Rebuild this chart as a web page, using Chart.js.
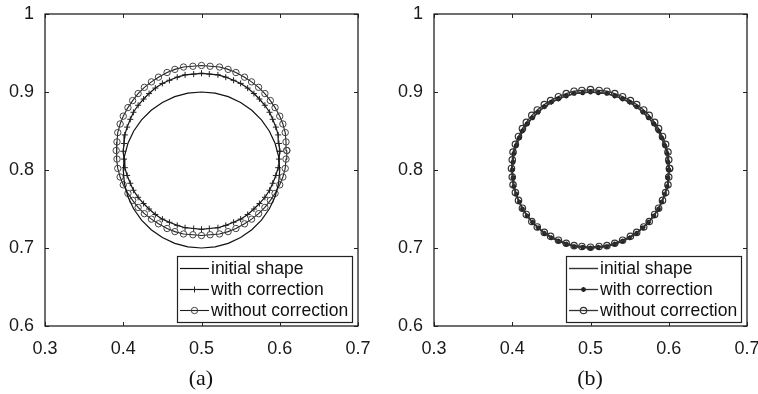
<!DOCTYPE html>
<html>
<head>
<meta charset="utf-8">
<script src="https://cdn.jsdelivr.net/npm/chart.js@4.4.0/dist/chart.umd.min.js"></script>
<style>
  body { margin: 0; background: #fff; width: 758px; height: 394px; overflow: hidden; position: relative; }
  .panel { position: absolute; top: 0; width: 379px; height: 394px; }
  canvas { display: block; }
  .cap { position: absolute; top: 365px; width: 100px; text-align: center; line-height: 24px;
         font: 22px "Liberation Serif", "Times New Roman", serif; color: #111; }
</style>
</head>
<body>
<div class="panel" style="left:0"><canvas id="chartA" width="379" height="394"></canvas></div>
<div class="panel" style="left:379px"><canvas id="chartB" width="379" height="394"></canvas></div>
<div class="cap" style="left:151px">(a)</div>
<div class="cap" style="left:540px">(b)</div>
<script>
// axis ticks
const xTicks = [0.3, 0.4, 0.5, 0.6, 0.7];
const xTickLabels = ['0.3', '0.4', '0.5', '0.6', '0.7'];
const yTicks = [0.6, 0.7, 0.8, 0.9, 1];
const yTickLabels = ['0.6', '0.7', '0.8', '0.9', '1'];

const seriesNames = ['initial shape', 'with correction', 'without correction'];

const initX = [.6,.5985,.594,.5866,.5766,.5643,.55,.5342,.5174,.5,.4826,.4658,.45,.4357,.4234,.4134,.406,.4015,.4,
  .4015,.406,.4134,.4234,.4357,.45,.4658,.4826,.5,.5174,.5342,.55,.5643,.5766,.5866,.594,.5985,.6];
const initY = [.8,.8174,.8342,.85,.8643,.8766,.8866,.894,.8985,.9,.8985,.894,.8866,.8766,.8643,.85,.8342,.8174,.8,
  .7826,.7658,.75,.7357,.7234,.7134,.706,.7015,.7,.7015,.706,.7134,.7234,.7357,.75,.7658,.7826,.8];

// with correction: x is the same in (a) and (b)
const withX = [.600,.599,.598,.595,.591,.587,.581,.574,.567,.559,.550,.541,.531,.521,.510,.500,.490,.479,.469,.459,
  .450,.441,.433,.426,.419,.413,.409,.405,.402,.401,.400,.401,.402,.405,.409,.413,.419,.426,.433,.441,
  .450,.459,.469,.479,.490,.500,.510,.521,.531,.541,.550,.559,.567,.574,.581,.587,.591,.595,.598,.599,.600];
const aWithY = [.824,.834,.845,.855,.865,.874,.883,.891,.898,.905,.911,.915,.919,.922,.923,.924,.923,.922,.919,.915,
  .911,.905,.898,.891,.883,.874,.865,.855,.845,.834,.824,.814,.803,.793,.783,.774,.765,.757,.750,.743,
  .737,.733,.729,.726,.725,.724,.725,.726,.729,.733,.737,.743,.750,.757,.765,.774,.783,.793,.803,.814,.824];
const bWithY = [.800,.810,.821,.831,.841,.850,.859,.867,.874,.881,.887,.891,.895,.898,.899,.900,.899,.898,.895,.891,
  .887,.881,.874,.867,.859,.850,.841,.831,.821,.810,.800,.790,.779,.769,.759,.750,.741,.733,.726,.719,
  .713,.709,.705,.702,.701,.700,.701,.702,.705,.709,.713,.719,.726,.733,.741,.750,.759,.769,.779,.790,.800];

// without correction
const aWithoutX = [.609,.608,.607,.604,.600,.594,.588,.581,.573,.564,.555,.544,.534,.523,.511,.500,.489,.477,.466,.456,
  .445,.436,.427,.419,.412,.406,.400,.396,.393,.392,.391,.392,.393,.396,.400,.406,.412,.419,.427,.436,
  .445,.456,.466,.477,.489,.500,.511,.523,.534,.544,.555,.564,.573,.581,.588,.594,.600,.604,.607,.608,.609];
const aWithoutY = [.825,.836,.848,.859,.869,.880,.889,.898,.906,.913,.919,.925,.929,.932,.933,.934,.933,.932,.929,.925,
  .919,.913,.906,.898,.889,.880,.869,.859,.848,.836,.825,.814,.802,.791,.781,.770,.761,.752,.744,.737,
  .731,.725,.721,.718,.717,.716,.717,.718,.721,.725,.731,.737,.744,.752,.761,.770,.781,.791,.802,.814,.825];
const bWithoutX = [.601,.600,.599,.596,.592,.587,.582,.575,.568,.559,.551,.541,.531,.521,.511,.500,.489,.479,.469,.459,
  .449,.441,.432,.425,.418,.413,.408,.404,.401,.400,.399,.400,.401,.404,.408,.413,.418,.425,.432,.441,
  .449,.459,.469,.479,.489,.500,.511,.521,.531,.541,.551,.559,.568,.575,.582,.587,.592,.596,.599,.600,.601];
const bWithoutY = [.802,.813,.823,.833,.843,.853,.861,.870,.877,.884,.889,.894,.898,.901,.902,.903,.902,.901,.898,.894,
  .889,.884,.877,.870,.861,.853,.843,.833,.823,.813,.802,.791,.781,.771,.761,.751,.743,.734,.727,.720,
  .715,.710,.706,.703,.702,.701,.702,.703,.706,.710,.715,.720,.727,.734,.743,.751,.761,.771,.781,.791,.802];

const pts = (xs, ys) => xs.map((x, i) => ({ x: x, y: ys[i] }));
const tickFont = { family: '"Liberation Sans", Arial, sans-serif', size: 18 };

// little marker painter, used for the legend
function drawMark(ctx, style, r, x, y) {
  ctx.beginPath();
  if (style === 'circle') {
    ctx.arc(x, y, r, 0, Math.PI * 2);
  } else {
    ctx.moveTo(x - r, y); ctx.lineTo(x + r, y);
    ctx.moveTo(x, y - r); ctx.lineTo(x, y + r);
    if (style === 'star') {
      const d = r * 0.7;
      ctx.moveTo(x - d, y - d); ctx.lineTo(x + d, y + d);
      ctx.moveTo(x - d, y + d); ctx.lineTo(x + d, y - d);
    }
  }
  ctx.stroke();
}

// matlab style box: inward ticks on four sides + legend inside lower right
const framePlugin = {
  id: 'frame',
  afterDatasetsDraw(chart) {
    const ctx = chart.ctx, a = chart.chartArea, sx = chart.scales.x, sy = chart.scales.y;
    ctx.save();
    ctx.strokeStyle = '#222';
    ctx.lineWidth = 1;
    ctx.beginPath();
    sx.ticks.forEach(t => {
      const p = Math.round(sx.getPixelForValue(t.value)) + 0.5;
      ctx.moveTo(p, a.bottom); ctx.lineTo(p, a.bottom - 4);
      ctx.moveTo(p, a.top); ctx.lineTo(p, a.top + 4);
    });
    sy.ticks.forEach(t => {
      const p = Math.round(sy.getPixelForValue(t.value)) + 0.5;
      ctx.moveTo(a.left, p); ctx.lineTo(a.left + 4, p);
      ctx.moveTo(a.right, p); ctx.lineTo(a.right - 4, p);
    });
    ctx.stroke();
    ctx.lineWidth = 1.3;
    ctx.strokeRect(a.left, a.top, a.right - a.left, a.bottom - a.top);

    // legend
    const w = 175, h = 66;
    const L = Math.round(a.right - 6 - w), T = Math.round(a.bottom - 4 - h);
    ctx.fillStyle = '#fff';
    ctx.fillRect(L, T, w, h);
    ctx.lineWidth = 1.2;
    ctx.strokeStyle = '#222';
    ctx.strokeRect(L + 0.5, T + 0.5, w, h);
    ctx.font = '17.5px "Liberation Sans", Arial, sans-serif';
    ctx.textBaseline = 'middle';
    chart.data.datasets.forEach((ds, i) => {
      const y = T + 12.5 + i * 21;
      ctx.strokeStyle = ds.borderColor;
      ctx.lineWidth = ds.borderWidth;
      ctx.beginPath(); ctx.moveTo(L + 3, y); ctx.lineTo(L + 32, y); ctx.stroke();
      if (ds.pointRadius) {
        ctx.strokeStyle = ds.pointBorderColor;
        ctx.lineWidth = ds.pointBorderWidth;
        drawMark(ctx, ds.pointStyle, ds.pointRadius, L + 17.5, y);
      }
      ctx.fillStyle = '#111';
      ctx.fillText(ds.label, L + 34, y + 1);
    });
    ctx.restore();
  }
};

function series(label, data, color, width, style, r, mColor, mWidth) {
  const last = data.length - 1;
  return {
    label: label, data: data, showLine: true, borderColor: color, borderWidth: width,
    pointStyle: style, pointRadius: r,
    radius: c => (c.dataIndex === last ? 0 : r),
    pointBorderColor: mColor, pointBorderWidth: mWidth,
    pointBackgroundColor: 'rgba(0,0,0,0)', pointHoverRadius: 0
  };
}

function makeChart(id, datasets, padLeft, padRight) {
  return new Chart(document.getElementById(id), {
    type: 'scatter',
    data: { datasets: datasets },
    options: {
      responsive: false,
      animation: false,
      events: [],
      layout: { padding: { left: padLeft, right: padRight, top: 14, bottom: 28 } },
      plugins: { legend: { display: false }, tooltip: { enabled: false } },
      elements: { line: { tension: 0 } },
      scales: {
        x: {
          type: 'linear', min: 0.3, max: 0.7,
          afterBuildTicks: s => { s.ticks = xTicks.map(v => ({ value: v })); },
          afterFit: s => { s.height = 40; s.paddingLeft = 0; s.paddingRight = 0; },
          grid: { display: false }, border: { display: false },
          ticks: { padding: 4, font: tickFont, color: '#1a1a1a', maxRotation: 0,
                   callback: (v, i) => xTickLabels[i] }
        },
        y: {
          type: 'linear', min: 0.6, max: 1,
          afterBuildTicks: s => { s.ticks = yTicks.map(v => ({ value: v })); },
          afterFit: s => { s.width = 45; s.paddingTop = 0; s.paddingBottom = 0; },
          grid: { display: false }, border: { display: false },
          ticks: { padding: 3, font: tickFont, color: '#1a1a1a',
                   callback: (v, i) => yTickLabels[i] }
        }
      }
    },
    plugins: [framePlugin]
  });
}

makeChart('chartA', [
  series(seriesNames[0], pts(initX, initY), '#111', 1.2, 'circle', 0, '#111', 1),
  series(seriesNames[1], pts(withX, aWithY), '#111', 1.2, 'cross', 3, '#222', 1),
  series(seriesNames[2], pts(aWithoutX, aWithoutY), '#222', 1.1, 'circle', 3.2, '#444', 1)
], 0, 21);

makeChart('chartB', [
  series(seriesNames[0], pts(initX, initY), '#333', 1.4, 'circle', 0, '#333', 1),
  series(seriesNames[1], pts(withX, bWithY), '#333', 1.3, 'star', 2.5, '#222', 1.3),
  series(seriesNames[2], pts(bWithoutX, bWithoutY), '#333', 1.3, 'circle', 3.2, '#333', 1.2)
], 10, 11);
</script>
</body>
</html>
